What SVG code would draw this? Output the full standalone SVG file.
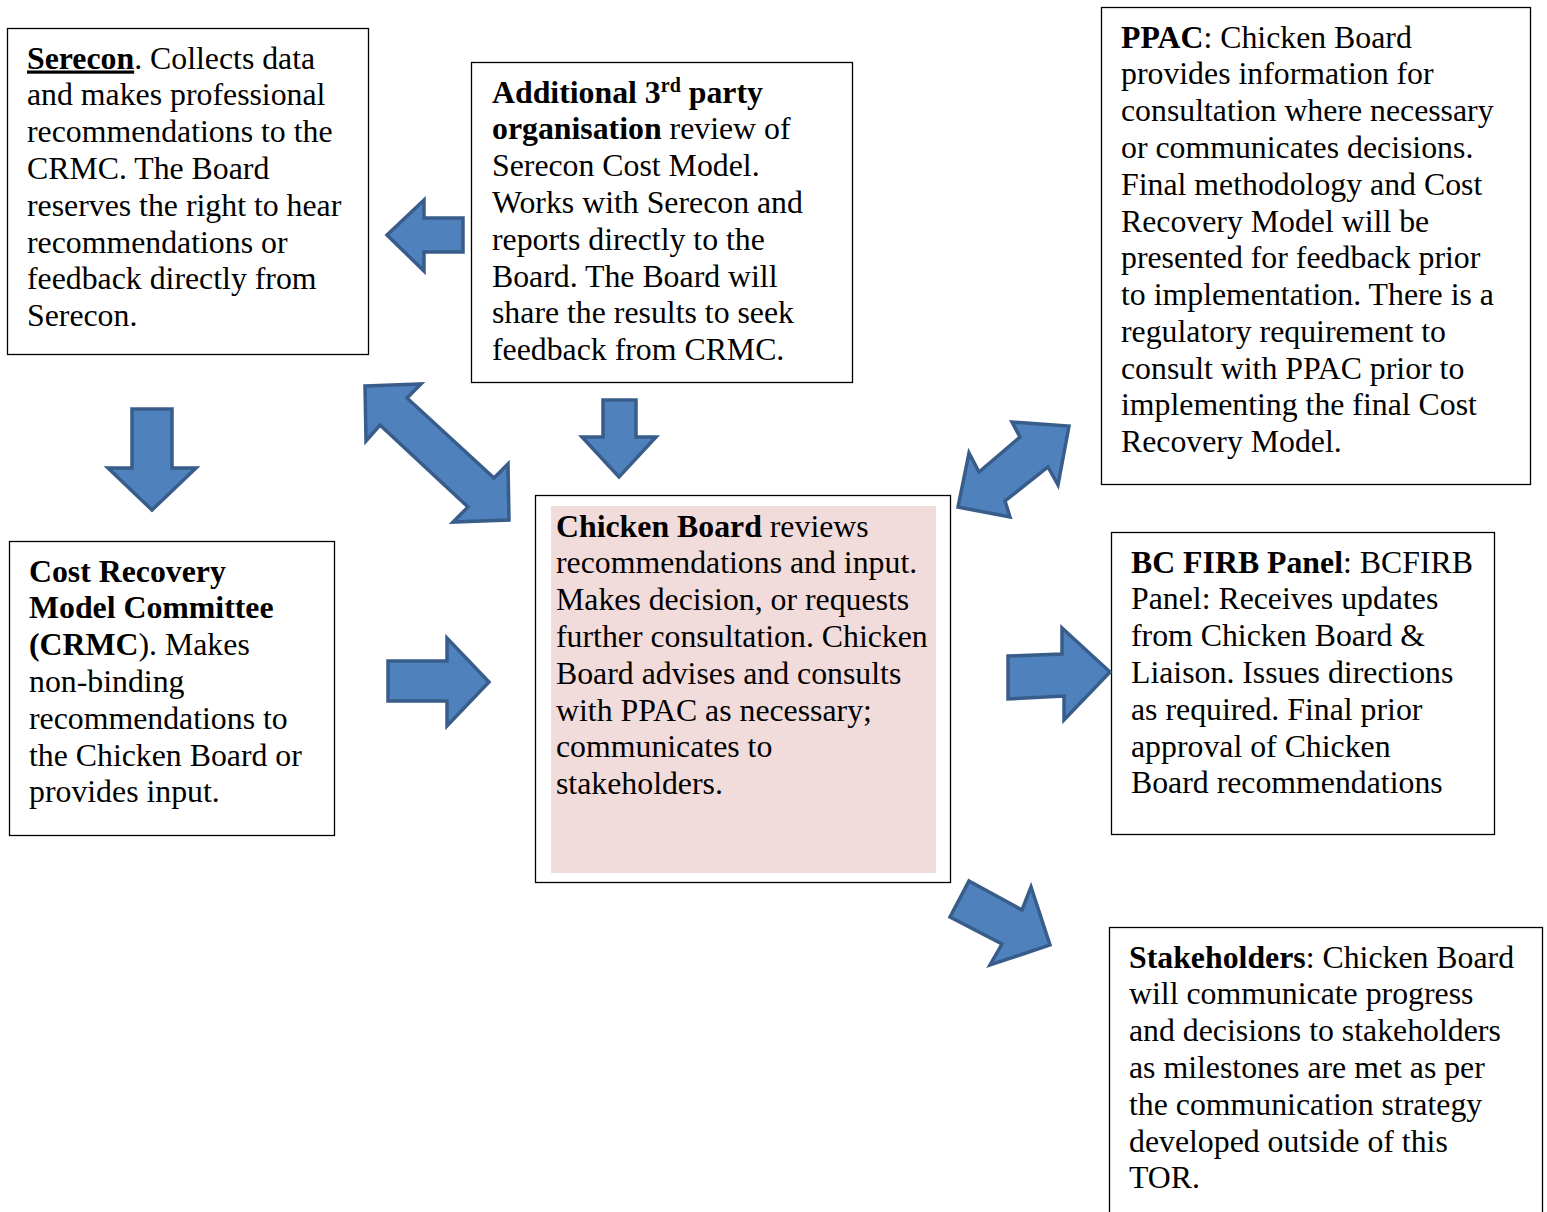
<svg xmlns="http://www.w3.org/2000/svg" width="1547" height="1212" viewBox="0 0 1547 1212">
<style>
.box{fill:#fff;stroke:#000;stroke-width:1.3}
.arr{fill:#4f81bd;stroke:#385d8a;stroke-width:3.5;stroke-linejoin:miter}
text{font-family:"Liberation Serif","Times New Roman",serif;font-size:31.8px;fill:#000}
.b{font-weight:bold}
</style>
<rect width="1547" height="1212" fill="#fff"/>
<g id="serecon">
<rect class="box" x="7.5" y="28.5" width="361" height="326"/>
<text x="27" y="68.5"><tspan class="b" text-decoration="underline">Serecon</tspan>. Collects data<tspan x="27" dy="36.8">and makes professional</tspan><tspan x="27" dy="36.8">recommendations to the</tspan><tspan x="27" dy="36.8">CRMC. The Board</tspan><tspan x="27" dy="36.8">reserves the right to hear</tspan><tspan x="27" dy="36.8">recommendations or</tspan><tspan x="27" dy="36.8">feedback directly from</tspan><tspan x="27" dy="36.8">Serecon.</tspan></text>
</g>
<g id="additional">
<rect class="box" x="471.5" y="62.5" width="381" height="320"/>
<text x="492" y="102.5"><tspan class="b">Additional 3</tspan><tspan class="b" font-size="20" dy="-11">rd</tspan><tspan class="b" dy="11"> party</tspan><tspan x="492" dy="36.8" class="b">organisation</tspan> review of<tspan x="492" dy="36.8">Serecon Cost Model.</tspan><tspan x="492" dy="36.8">Works with Serecon and</tspan><tspan x="492" dy="36.8">reports directly to the</tspan><tspan x="492" dy="36.8">Board. The Board will</tspan><tspan x="492" dy="36.8">share the results to seek</tspan><tspan x="492" dy="36.8">feedback from CRMC.</tspan></text>
</g>
<g id="ppac">
<rect class="box" x="1101.5" y="7.5" width="429" height="477"/>
<text x="1121" y="47.5"><tspan class="b">PPAC</tspan>: Chicken Board<tspan x="1121" dy="36.8">provides information for</tspan><tspan x="1121" dy="36.8">consultation where necessary</tspan><tspan x="1121" dy="36.8">or communicates decisions.</tspan><tspan x="1121" dy="36.8">Final methodology and Cost</tspan><tspan x="1121" dy="36.8">Recovery Model will be</tspan><tspan x="1121" dy="36.8">presented for feedback prior</tspan><tspan x="1121" dy="36.8">to implementation. There is a</tspan><tspan x="1121" dy="36.8">regulatory requirement to</tspan><tspan x="1121" dy="36.8">consult with PPAC prior to</tspan><tspan x="1121" dy="36.8">implementing the final Cost</tspan><tspan x="1121" dy="36.8">Recovery Model.</tspan></text>
</g>
<g id="crmc">
<rect class="box" x="9.5" y="541.5" width="325" height="294"/>
<text x="29" y="581.5"><tspan class="b">Cost Recovery</tspan><tspan x="29" dy="36.8" class="b">Model Committee</tspan><tspan x="29" dy="36.8" class="b">(CRMC</tspan>). Makes<tspan x="29" dy="36.8">non-binding</tspan><tspan x="29" dy="36.8">recommendations to</tspan><tspan x="29" dy="36.8">the Chicken Board or</tspan><tspan x="29" dy="36.8">provides input.</tspan></text>
</g>
<g id="chicken-board">
<rect class="box" x="535.5" y="495.5" width="415" height="387"/>
<rect x="551" y="506" width="385" height="367" fill="#f2dcdb"/>
<text x="556" y="536.5"><tspan class="b">Chicken Board</tspan> reviews<tspan x="556" dy="36.8">recommendations and input.</tspan><tspan x="556" dy="36.8">Makes decision, or requests</tspan><tspan x="556" dy="36.8">further consultation. Chicken</tspan><tspan x="556" dy="36.8">Board advises and consults</tspan><tspan x="556" dy="36.8">with PPAC as necessary;</tspan><tspan x="556" dy="36.8">communicates to</tspan><tspan x="556" dy="36.8">stakeholders.</tspan></text>
</g>
<g id="bcfirb">
<rect class="box" x="1111.5" y="532.5" width="383" height="302"/>
<text x="1131" y="572.5"><tspan class="b">BC FIRB Panel</tspan>: BCFIRB<tspan x="1131" dy="36.8">Panel: Receives updates</tspan><tspan x="1131" dy="36.8">from Chicken Board &amp;</tspan><tspan x="1131" dy="36.8">Liaison. Issues directions</tspan><tspan x="1131" dy="36.8">as required. Final prior</tspan><tspan x="1131" dy="36.8">approval of Chicken</tspan><tspan x="1131" dy="36.8">Board recommendations</tspan></text>
</g>
<g id="stakeholders">
<rect class="box" x="1109.5" y="927.5" width="433" height="300"/>
<text x="1129" y="967.5"><tspan class="b">Stakeholders</tspan>: Chicken Board<tspan x="1129" dy="36.8">will communicate progress</tspan><tspan x="1129" dy="36.8">and decisions to stakeholders</tspan><tspan x="1129" dy="36.8">as milestones are met as per</tspan><tspan x="1129" dy="36.8">the communication strategy</tspan><tspan x="1129" dy="36.8">developed outside of this</tspan><tspan x="1129" dy="36.8">TOR.</tspan></text>
</g>
<g id="connectors">
<polygon class="arr" points="387,235 424,200 424,218 463,218 463,252 424,252 424,271"/>
<polygon class="arr" points="132,409 172,409 172,468 196,468 152,510 108,468 132,468"/>
<polygon class="arr" points="603,400 636,400 636,437 656,437 619,477 582,437 603,437"/>
<polygon class="arr" points="388,661 447,661 447,638 489,682 447,726 447,701 388,701"/>
<polygon class="arr" points="1008,656 1062,654 1062,628 1110,672 1064,720 1064,696 1008,699"/>
<polygon class="arr" points="365,386 421,384 407,398 494,478 508,464 509,520 453,522 468,507 380,425 366,441"/>
<polygon class="arr" points="1069,426 1058,485 1048,467 1005,501 1010,517 958,507 969,453 979,472 1020,437 1012,422"/>
<polygon class="arr" points="969,881 1022,910 1031,887 1050,945 990,965 1002,944 950,917"/>
</g>
</svg>
